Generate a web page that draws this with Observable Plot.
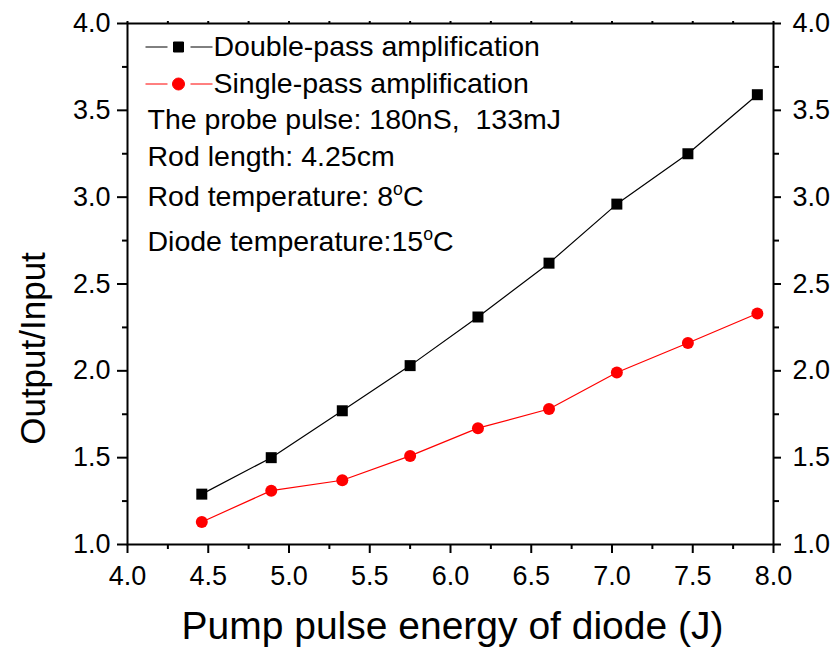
<!DOCTYPE html>
<html>
<head>
<meta charset="utf-8">
<script src="https://cdn.jsdelivr.net/npm/d3@7"></script>
<script src="https://cdn.jsdelivr.net/npm/@observablehq/plot@0.6"></script>
<style>
  html, body { margin: 0; padding: 0; background: #fff; }
</style>
</head>
<body>
<div id="chart"></div>
<script>
// Pump pulse energy of the diode (J)
const energy = [4.46, 4.89, 5.33, 5.75, 6.17, 6.61, 7.03, 7.47, 7.90];
// Output/Input gain for each configuration
const doublePass = [1.29, 1.50, 1.77, 2.03, 2.31, 2.62, 2.96, 3.25, 3.59];
const singlePass = [1.13, 1.31, 1.37, 1.51, 1.67, 1.78, 1.99, 2.16, 2.33];

const seriesNames = ["Double-pass amplification", "Single-pass amplification"];
const seriesColors = ["#000000", "#ff0000"];
// "^o" marks a superscript o (degree sign)
const notes = [
  "The probe pulse: 180nS,  133mJ",
  "Rod length: 4.25cm",
  "Rod temperature: 8^oC",
  "Diode temperature:15^oC"
];

const xMajor = [4.0, 4.5, 5.0, 5.5, 6.0, 6.5, 7.0, 7.5, 8.0];
const xMinor = [4.25, 4.75, 5.25, 5.75, 6.25, 6.75, 7.25, 7.75];
const yMajor = [1.0, 1.5, 2.0, 2.5, 3.0, 3.5, 4.0];
const yMinor = [1.25, 1.75, 2.25, 2.75, 3.25, 3.75];

const rows = energy.flatMap((e, i) => [
  {energy: e, gain: doublePass[i], series: seriesNames[0]},
  {energy: e, gain: singlePass[i], series: seriesNames[1]}
]);

const fmt = d3.format(".1f");
const blank = () => "";
const font = "'Liberation Sans', Arial, sans-serif";

// Legend swatch: short line, marker, short line
function swatch(marker) {
  return {
    draw(ctx) {
      ctx.moveTo(-33, 0); ctx.lineTo(-11, 0);
      ctx.moveTo(12, 0); ctx.lineTo(34, 0);
      if (marker === "square") {
        ctx.moveTo(-5, -5); ctx.lineTo(5, -5); ctx.lineTo(5, 5); ctx.lineTo(-5, 5); ctx.closePath();
      } else {
        ctx.moveTo(6, 0); ctx.arc(0, 0, 6, 0, 2 * Math.PI);
      }
    }
  };
}

const legendRowsDy = [23, 60];
const noteRowsDy = [96, 133, 173, 218];

const textOpts = {frameAnchor: "top-left", textAnchor: "start", lineAnchor: "middle", fontSize: 28.5, fill: "#000"};

const chart = Plot.plot({
  width: 835,
  height: 652,
  marginLeft: 127,
  marginRight: 62,
  marginTop: 23,
  marginBottom: 108,
  style: {fontFamily: font, background: "#fff", color: "#000", whiteSpace: "pre"},
  x: {domain: [4, 8], axis: null},
  y: {domain: [1, 4], axis: null},
  color: {domain: seriesNames, range: seriesColors},
  marks: [
    Plot.frame({stroke: "#000", strokeWidth: 2}),
    // bottom axis
    Plot.axisX({ticks: xMajor, tickSize: 9, tickPadding: 12, tickFormat: fmt, fontSize: 27, strokeWidth: 2, label: null}),
    Plot.axisX({ticks: xMinor, tickSize: 5, tickFormat: blank, strokeWidth: 2, label: null}),
    // top axis
    Plot.axisX({anchor: "top", ticks: xMajor.concat(xMinor), tickSize: 3, tickFormat: blank, strokeWidth: 2, label: null}),
    // left axis
    Plot.axisY({ticks: yMajor, tickSize: 10, tickPadding: 7, tickFormat: fmt, fontSize: 27, strokeWidth: 2, label: null}),
    Plot.axisY({ticks: yMinor, tickSize: 5, tickFormat: blank, strokeWidth: 2, label: null}),
    // right axis
    Plot.axisY({anchor: "right", ticks: yMajor, tickSize: 7, tickPadding: 12, tickFormat: fmt, fontSize: 27, strokeWidth: 2, label: null}),
    Plot.axisY({anchor: "right", ticks: yMinor, tickSize: 5, tickFormat: blank, strokeWidth: 2, label: null}),
    // axis titles
    Plot.text(["Pump pulse energy of diode (J)"], {frameAnchor: "bottom", textAnchor: "middle", lineAnchor: "middle", dx: 2, dy: 82, fontSize: 39, fill: "#000"}),
    Plot.text(["Output/Input"], {frameAnchor: "left", textAnchor: "middle", lineAnchor: "middle", rotate: -90, dx: -94, dy: 64.5, fontSize: 35, fill: "#000"}),
    // data
    Plot.line(rows, {x: "energy", y: "gain", z: "series", stroke: "series", strokeWidth: 1.2}),
    Plot.dot(rows.filter(d => d.series === seriesNames[0]), {x: "energy", y: "gain", symbol: "square", r: 6.2, fill: seriesColors[0]}),
    Plot.dot(rows.filter(d => d.series === seriesNames[1]), {x: "energy", y: "gain", symbol: "circle", r: 6, fill: seriesColors[1]}),
    // legend
    Plot.dot([0], {frameAnchor: "top-left", dx: 51, dy: 23.5, symbol: swatch("square"), fill: seriesColors[0], stroke: seriesColors[0], strokeWidth: 1}),
    Plot.dot([0], {frameAnchor: "top-left", dx: 51, dy: 60.5, symbol: swatch("circle"), fill: seriesColors[1], stroke: seriesColors[1], strokeWidth: 1}),
    ...seriesNames.map((name, i) => Plot.text([name], {...textOpts, dx: 86, dy: legendRowsDy[i]})),
    ...notes.map((note, i) => Plot.text([note], {...textOpts, dx: 20, dy: noteRowsDy[i]}))
  ]
});

// Render "^o" as a raised small o
d3.select(chart).selectAll("text").each(function () {
  const t = this.textContent;
  if (!t.includes("^o")) return;
  const [before, after] = t.split("^o");
  const sel = d3.select(this);
  sel.text(null);
  sel.append("tspan").text(before);
  sel.append("tspan").attr("font-size", "0.62em").attr("dy", "-0.62em").text("o");
  sel.append("tspan").attr("dy", "0.38em").text(after);
});

document.getElementById("chart").appendChild(chart);
</script>
</body>
</html>
